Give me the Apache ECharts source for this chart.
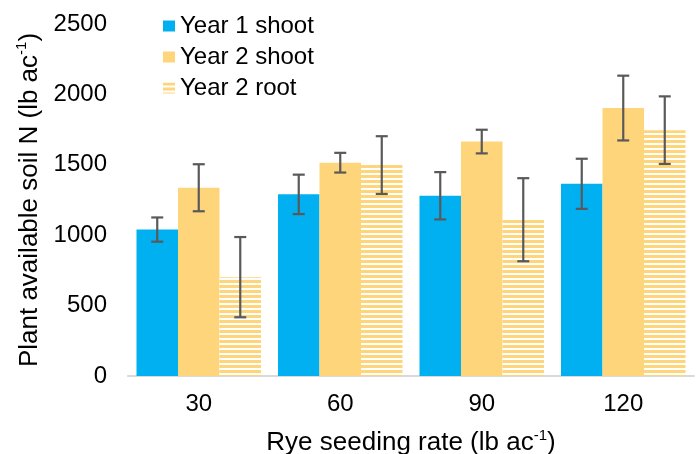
<!DOCTYPE html>
<html>
<head>
<meta charset="utf-8">
<script src="https://cdn.jsdelivr.net/npm/echarts@6/dist/echarts.min.js"></script>
<style>
  html, body { margin: 0; padding: 0; background: #fff; }
  #chart { width: 699px; height: 454px; }
</style>
</head>
<body>
<div id="chart"></div>
<script>
const categories = ['30', '60', '90', '120']
const year1Shoot = [1040, 1290, 1280, 1365]
const year1ShootErr = [86, 140, 168, 178]
const year2Shoot = [1337, 1515, 1665, 1903]
const year2ShootErr = [167, 70, 84, 230]
const year2Root = [702, 1498, 1110, 1746]
const year2RootErr = [285, 205, 295, 240]

const BLUE = '#00b0f0'
const GOLD = '#ffd57b'
const FONT = 'Liberation Sans'

// striped fill for the root bars
const makeStripes = () => {
  const c = document.createElement('canvas')
  c.width = 8
  c.height = 5
  const ctx = c.getContext('2d')
  ctx.fillStyle = '#ffffff'
  ctx.fillRect(0, 0, 8, 5)
  ctx.fillStyle = GOLD
  ctx.fillRect(0, 0, 8, 3)
  return c
}
const stripes = { image: makeStripes(), repeat: 'repeat' }

const errData = (vals, errs) => vals.map((v, i) => [i, v - errs[i], v + errs[i]])

const errorSeries = (vals, errs, slot) => ({
  type: 'custom',
  z: 10,
  silent: true,
  data: errData(vals, errs),
  encode: { x: 0, y: [1, 2] },
  renderItem: (params, api) => {
    const idx = api.value(0)
    const lo = api.coord([idx, api.value(1)])
    const hi = api.coord([idx, api.value(2)])
    const bw = api.size([1, 0])[0] * 0.88 / 3
    const x = lo[0] + slot * bw
    const cap = 6
    const style = { stroke: '#595959', lineWidth: 2.2 }
    return {
      type: 'group',
      children: [
        { type: 'line', shape: { x1: x, y1: lo[1], x2: x, y2: hi[1] }, style },
        { type: 'line', shape: { x1: x - cap, y1: hi[1], x2: x + cap, y2: hi[1] }, style },
        { type: 'line', shape: { x1: x - cap, y1: lo[1], x2: x + cap, y2: lo[1] }, style }
      ]
    }
  }
})

const titleRich = {
  t: { fontSize: 26, fontFamily: FONT, color: '#000', lineHeight: 30 },
  s: { fontSize: 15, fontFamily: FONT, color: '#000', lineHeight: 30, verticalAlign: 'top', padding: [0, 0, 12, 0] }
}

const option = {
  animation: false,
  textStyle: { fontFamily: FONT },
  legend: {
    orient: 'vertical',
    left: 158,
    top: 9,
    itemWidth: 12,
    itemHeight: 11,
    itemGap: 7,
    icon: 'rect',
    textStyle: { fontSize: 24, color: '#000', fontFamily: FONT },
    data: ['Year 1 shoot', 'Year 2 shoot', 'Year 2 root']
  },
  grid: { left: 128, right: 5, top: 24, bottom: 78, containLabel: false, outerBoundsMode: 'none' },
  xAxis: {
    type: 'category',
    data: categories,
    axisTick: { show: false },
    axisLine: { lineStyle: { color: '#d9d9d9', width: 2 } },
    axisLabel: { fontSize: 24, color: '#000', margin: 16, fontFamily: FONT },
    name: '{t|Rye seeding rate (lb ac}{s|-1}{t|)}',
    nameLocation: 'middle',
    nameGap: 52,
    nameTextStyle: { rich: titleRich }
  },
  yAxis: {
    type: 'value',
    min: 0,
    max: 2500,
    interval: 500,
    splitLine: { show: false },
    axisLine: { show: false },
    axisTick: { show: false },
    axisLabel: { fontSize: 24, color: '#000', margin: 21, fontFamily: FONT, formatter: v => String(v) },
    name: '{t|Plant available soil N (lb ac}{s|-1}{t|)}',
    nameLocation: 'middle',
    nameGap: 81,
    nameTextStyle: { rich: titleRich }
  },
  series: [
    {
      name: 'Year 1 shoot',
      type: 'bar',
      data: year1Shoot,
      barGap: '0%',
      barCategoryGap: '12%',
      itemStyle: { color: BLUE }
    },
    {
      name: 'Year 2 shoot',
      type: 'bar',
      data: year2Shoot,
      itemStyle: { color: GOLD }
    },
    {
      name: 'Year 2 root',
      type: 'bar',
      data: year2Root,
      itemStyle: { color: stripes }
    },
    errorSeries(year1Shoot, year1ShootErr, -1),
    errorSeries(year2Shoot, year2ShootErr, 0),
    errorSeries(year2Root, year2RootErr, 1)
  ]
}

const chart = echarts.init(document.getElementById('chart'))
chart.setOption(option)
</script>
</body>
</html>
